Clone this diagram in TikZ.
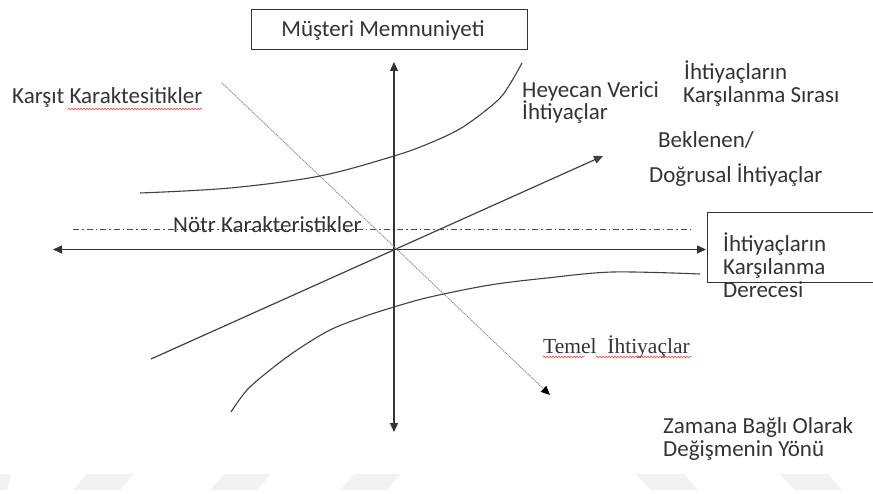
\documentclass[tikz,border=0pt]{standalone}
\usepackage{fontspec}
\setmainfont{Carlito}
\newfontfamily\timesface{Liberation Serif}
\usetikzlibrary{arrows.meta,decorations.pathmorphing}
\begin{document}
\begin{tikzpicture}[x=1pt,y=-1pt,
  axisline/.style={draw=black!80, line width=1.3pt},
  curveline/.style={draw=black!75, line width=1.1pt},
  timeline/.style={draw=black!45, line width=0.9pt, dash pattern=on 1.2pt off 0.8pt},
  neutral/.style={draw=black!70, line width=0.9pt, dash pattern=on 6pt off 3pt on 1.5pt off 3pt},
  tri/.tip={Triangle[length=9pt,width=8pt]},
  blacktri/.tip={Triangle[length=9pt,width=8pt,color=black]},
  lbl/.style={anchor=base west, inner sep=0pt, text=black!80, font=\fontsize{23}{23}\selectfont},
  spell/.style={draw=red!80, line width=0.5pt, decorate,
    decoration={snake, amplitude=0.9pt, segment length=3pt}},
  wmark/.style={fill=black!5, draw=none}]
\useasboundingbox (0,0) rectangle (873,494);

% faint marks along the bottom edge
\fill[wmark] (0,474) -- (11,474) -- (7,490) -- (0,490) -- cycle;
\foreach \a in {73,210,340}{
  \fill[wmark] (\a,490) -- (\a+47,490) -- (\a+61,474) -- (\a+14,474) -- cycle;}
\foreach \a in {636,780}{
  \fill[wmark] (\a,474) -- (\a+48,474) -- (\a+62,490) -- (\a+14,490) -- cycle;}

% title box
\node[draw=black!80, line width=1pt, minimum width=276pt, minimum height=40pt,
      inner sep=0pt, font=\fontsize{23}{23}\selectfont, text=black!80]
  (sat) at (389,30) {\hspace*{-12pt}Müşteri Memnuniyeti};

% right box (runs past the right edge)
\coordinate (rbtop) at (873,213);
\coordinate (rbcorner) at (707,283);
\coordinate (rbbot) at (873,283);
\draw[black!80, line width=1pt] (rbtop) -| (rbcorner) -- (rbbot);

% neutral characteristics (dash-dot)
\coordinate (nl) at (73,229);
\coordinate (nr) at (692,229);
\draw[neutral] (nl) -- (nr);

% axes
\coordinate (vtop) at (394,62);
\coordinate (vbot) at (394,432);
\coordinate (hleft) at (53,249.5);
\coordinate (hright) at (706,249.5);
\draw[axisline, {tri}-{tri}] (vbot) -- (vtop);
\draw[axisline, {tri}-{tri}] (hleft) -- (hright);

% expected / linear needs
\coordinate (el) at (151,359);
\coordinate (er) at (603,156);
\draw[curveline, line width=1.2pt, -{tri}] (el) -- (er);

% direction of change over time
\coordinate (tl) at (222,83);
\coordinate (tr) at (550,395);
\draw[timeline, -{blacktri}] (tl) -- (tr);

% exciting needs curve
\draw[curveline] plot[smooth, tension=0.55] coordinates
  {(140,193) (230,188) (320,176) (394,156) (430,143) (463,127) (497,101) (510,84) (522,63)};

% basic needs curve
\draw[curveline] plot[smooth, tension=0.55] coordinates
  {(231,412) (247,390) (270,370) (297,350) (330,330) (363,317) (394,307) (430,297)
   (490,285) (547,278) (613,272) (700,274)};

% labels
\node[lbl] (karsit) at (12,104) {Karşıt Karaktesitikler};
\draw[spell] (68,109) -- (202,109);

\node[lbl] (notr) at (173,233) {Nötr Karakteristikler};

\node[lbl] (sira1) at (684,80) {İhtiyaçların};
\node[lbl] (sira2) at (683,103) {Karşılanma Sırası};

\node[lbl] (hey1) at (522,98) {Heyecan Verici};
\node[lbl] (hey2) at (522,120) {İhtiyaçlar};

\node[lbl] (bek1) at (658,148) {Beklenen/};
\node[lbl] (bek2) at (649,183) {Doğrusal İhtiyaçlar};

\node[lbl] (der1) at (723,252) {İhtiyaçların};
\node[lbl] (der2) at (723,275) {Karşılanma};
\node[lbl] (der3) at (723,298) {Derecesi};

\node[lbl, font=\timesface\fontsize{21.5}{24}\selectfont] (temel) at (543,353) {Temel\ \ İhtiyaçlar};
\draw[spell] (543,357) -- (585,357);
\draw[spell] (596,357) -- (692,357);

\node[lbl] (zam1) at (663,433) {Zamana Bağlı Olarak};
\node[lbl] (zam2) at (663,456) {Değişmenin Yönü};
\end{tikzpicture}
\end{document}
